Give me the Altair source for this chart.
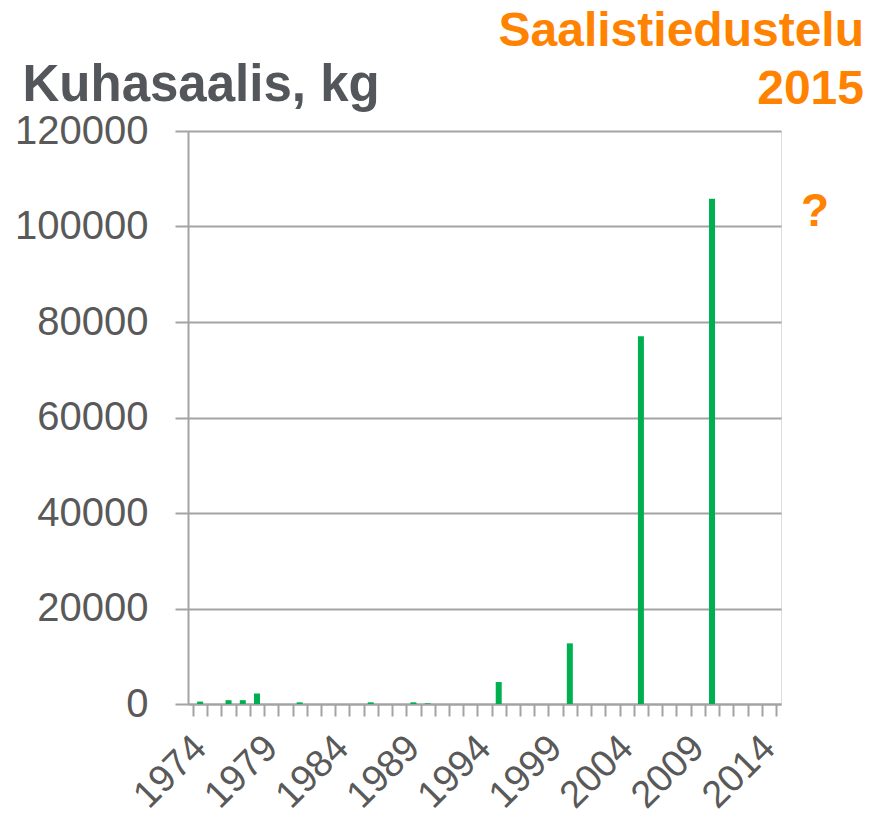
import altair as alt
import pandas as pd

# ---- data ----
years = [1974, 1976, 1977, 1978, 1981, 1986, 1989, 1990, 1995, 2000, 2005, 2010]
catch_kg = [500, 800, 800, 2200, 350, 350, 350, 140, 4600, 12700, 77000, 105800]
y_ticks = [0, 20000, 40000, 60000, 80000, 100000, 120000]
category_edges = [y + 0.5 for y in range(1973, 2015)]   # tick marks between years
label_every = 5
first_label = 1974
y_title = "Kuhasaalis, kg"
note_lines = ["Saalistiedustelu", "2015"]
unknown_mark = "?"

FONT = "Liberation Sans"
GRAY_TXT = "#595959"
TITLE_TXT = "#53565A"
GRID = "#A3A3A3"
GREEN = "#00B050"
ORANGE = "#FF8200"

W, H = 593, 573
band = W / 41.0

df = pd.DataFrame({"year": years, "kg": catch_kg})

x_scale = alt.Scale(domain=[1973.5, 2014.5], nice=False, zero=False)
y_scale = alt.Scale(domain=[0, 120000], nice=False)

label_expr = (
    f"((datum.value + 0.5 - {first_label}) % {label_every} == 0 && datum.value < 2014) "
    "? format(datum.value + 0.5, 'd') : ''"
)

bars = alt.Chart(df).mark_bar(color=GREEN, size=6).encode(
    x=alt.X(
        "year:Q",
        scale=x_scale,
        axis=alt.Axis(
            values=category_edges,
            labelExpr=label_expr,
            labelOffset=band / 2,
            labelAngle=-45,
            labelAlign="right",
            labelBaseline="middle",
            labelPadding=26,
            labelFontSize=38,
            labelFont=FONT,
            labelColor=GRAY_TXT,
            labelOverlap=False,
            labelFlush=False,
            labelBound=False,
            tickSize=12,
            tickColor=GRID,
            tickWidth=2,
            domainColor=GRID,
            domainWidth=2,
            grid=False,
            title=None,
        ),
    ),
    y=alt.Y(
        "kg:Q",
        scale=y_scale,
        axis=alt.Axis(
            values=y_ticks,
            format="d",
            labelFontSize=40,
            labelFont=FONT,
            labelColor=GRAY_TXT,
            labelPadding=27,
            tickSize=13,
            tickColor=GRID,
            tickWidth=2,
            domainColor=GRID,
            domainWidth=2,
            grid=True,
            gridColor=GRID,
            gridWidth=2,
            title=y_title,
            titleAngle=0,
            titleX=22 - 188,
            titleY=100 - 131,
            titleAlign="left",
            titleBaseline="alphabetic",
            titleFontSize=51,
            titleFont=FONT,
            titleFontWeight="bold",
            titleColor=TITLE_TXT,
        ),
    ),
)

note = alt.Chart(pd.DataFrame({"k": [0]})).mark_text(
    font=FONT, fontSize=48, fontWeight="bold", color=ORANGE,
    align="right", baseline="alphabetic", lineHeight=58,
).encode(
    x=alt.value(864 - 188),
    y=alt.value(46 - 131),
    text=alt.value(note_lines),
)

qmark = alt.Chart(pd.DataFrame({"t": [unknown_mark]})).mark_text(
    font=FONT, fontSize=46, fontWeight="bold", color=ORANGE,
    align="center", baseline="alphabetic",
).encode(
    x=alt.value(815 - 188),
    y=alt.value(226 - 131),
    text="t:N",
)

chart = alt.layer(bars, note, qmark).properties(
    width=W,
    height=H,
    autosize=alt.AutoSizeParams(type="none"),
    padding={"left": 180, "top": 123, "right": 88, "bottom": 111},
).configure_view(stroke=None).configure(background="white")

chart.save("out.html", embed_options={"renderer": "svg", "actions": False})
